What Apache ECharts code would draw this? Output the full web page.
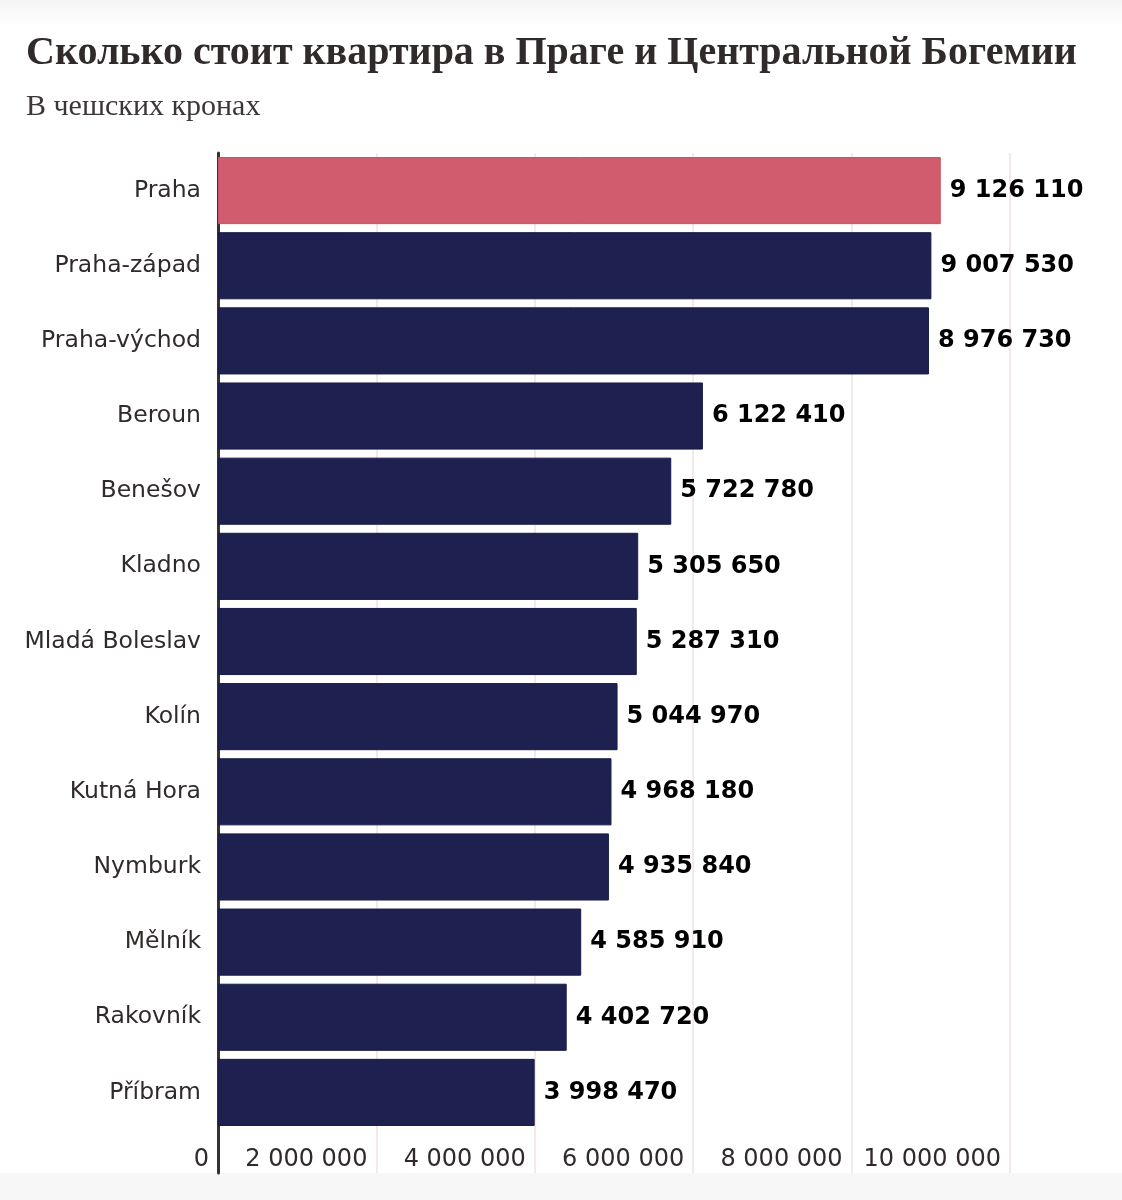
<!DOCTYPE html>
<html><head><meta charset="utf-8">
<script src="https://cdn.jsdelivr.net/npm/echarts@6/dist/echarts.min.js"></script>
<style>
html,body{margin:0;padding:0;background:#f7f7f7;}
#panel{position:absolute;left:0;top:0;width:1122px;height:1173px;background:linear-gradient(#f5f5f5 0px,#ffffff 26px,#ffffff 100%);}
#chart{position:absolute;left:0;top:0;width:1122px;height:1200px;}
</style></head>
<body><div id="panel"></div><div id="chart"></div>
<script>
const titleText = 'Сколько стоит квартира в Праге и Центральной Богемии';
const subtitleText = 'В чешских кронах';
const categories = ['Praha','Praha-západ','Praha-východ','Beroun','Benešov','Kladno','Mladá Boleslav','Kolín','Kutná Hora','Nymburk','Mělník','Rakovník','Příbram'];
const values = [9126110,9007530,8976730,6122410,5722780,5305650,5287310,5044970,4968180,4935840,4585910,4402720,3998470];
const highlight = 'Praha';
const axisMax = 10000000;
const axisInterval = 2000000;

function fmt(v){ return String(Math.round(v)).replace(/\B(?=(\d{3})+(?!\d))/g,' '); }

const chart = echarts.init(document.getElementById('chart'), null, {renderer:'canvas'});
const gridLeft = 218, gridRight = 112;
chart.setOption({
  backgroundColor:'transparent',
  animation:false,
  title:[
    {text:titleText,left:21,top:29,textStyle:{fontFamily:'Liberation Serif',fontWeight:'bold',fontSize:40,color:'#302a2a'}},
    {text:subtitleText,left:21,top:87,textStyle:{fontFamily:'Liberation Serif',fontWeight:'normal',fontSize:30,color:'#3d3636'}}
  ],
  grid:[
    {left:gridLeft,right:gridRight,top:153,bottom:70},
    {left:gridLeft,right:gridRight,top:1130,height:43}
  ],
  xAxis:[
    {gridIndex:0,type:'value',min:0,max:axisMax,interval:axisInterval,
     axisLine:{show:false},axisTick:{show:false},axisLabel:{show:false},
     splitLine:{show:true,lineStyle:{color:'#f3e0e0',width:1.5}}},
    {gridIndex:1,type:'value',min:0,max:axisMax,interval:axisInterval,position:'bottom',
     axisLine:{show:false},axisTick:{show:false},
     axisLabel:{show:true,inside:true,margin:1,align:'right',padding:[0,9,0,0],
       fontFamily:'DejaVu Sans',fontSize:24,color:'#302a2a',formatter:fmt},
     splitLine:{show:true,lineStyle:{color:'#f3e0e0',width:1.5}}}
  ],
  yAxis:[
    {gridIndex:0,type:'category',data:categories,inverse:true,
     axisLine:{show:true,lineStyle:{color:'#3a3030',width:3}},axisTick:{show:false},
     axisLabel:{margin:17,fontFamily:'DejaVu Sans',fontSize:23.5,color:'#302a2a'}},
    {gridIndex:1,type:'value',min:0,max:1,
     axisLine:{show:true,lineStyle:{color:'#3a3030',width:3}},axisTick:{show:false},
     axisLabel:{show:false},splitLine:{show:false}}
  ],
  series:[{
    type:'bar',xAxisIndex:0,yAxisIndex:0,
    barCategoryGap:'10.7%',
    data:values.map((v,i)=>({value:v,itemStyle:{color:categories[i]===highlight?'#d05c6e':'#1e2150',
      borderColor:categories[i]===highlight?'#c9556a':'#181b48',borderWidth:1}})),
    label:{show:true,position:'right',distance:9,formatter:p=>fmt(p.value),
      fontFamily:'DejaVu Sans',fontWeight:'bold',fontSize:24,color:'#000'}
  }]
});
</script></body></html>
